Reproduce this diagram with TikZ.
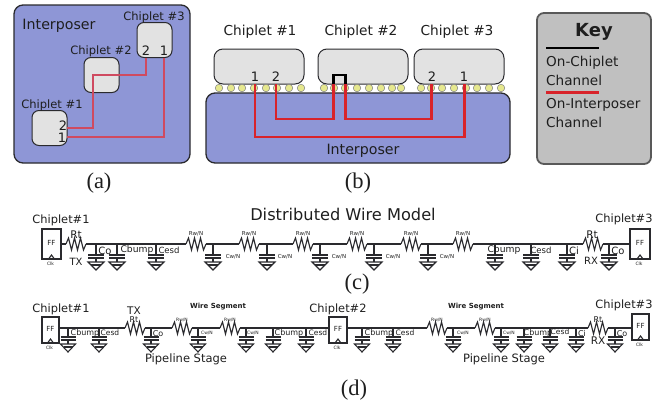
\documentclass[tikz,border=0pt]{standalone}
\usepackage{fontspec}
\setmainfont{DejaVu Sans}
\newfontfamily\capfont{Liberation Serif}
\definecolor{ipblue}{HTML}{8E96D6}
\definecolor{chipgray}{HTML}{E2E2E2}
\definecolor{edgedark}{HTML}{2A2A2E}
\definecolor{redwire}{HTML}{D8232A}
\definecolor{redsoft}{HTML}{CF4A60}
\definecolor{bumpy}{HTML}{E6E88E}
\definecolor{keygray}{HTML}{C0C0C0}
\definecolor{txt}{HTML}{1E1E1E}
\newcounter{labn}
\newcommand{\lab}[4]{\stepcounter{labn}\node[lbl,font=\fontsize{#3}{#3}\selectfont] (lab\thelabn) at ({#1},{#2}) {#4};}
\newcommand{\labb}[4]{\stepcounter{labn}\node[lbl,font=\fontsize{#3}{#3}\selectfont\bfseries] (lab\thelabn) at ({#1},{#2}) {#4};}
\newcommand{\capt}[3]{\stepcounter{labn}\node[lbl,font=\fontsize{22.5}{22.5}\selectfont\capfont] (lab\thelabn) at ({#1},{#2}) {#3};}
% resistor centred at (x,y)
\newcommand{\rzig}[2]{\draw[wire] (#1-10,#2) -- ++(2.5,-6) -- ++(3,12) -- ++(3,-12) -- ++(3,12) -- ++(3,-12) -- ++(3,12) -- ++(2.5,-6);}
% capacitor to ground: x, wire y, plate y, half width
\newcommand{\cgnd}[4]{\draw[wire] (#1,#2) -- (#1,#3);
  \draw[wire,line width=1.5pt] (#1-#4,#3) -- (#1+#4,#3);
  \draw[wire,line width=1.5pt] (#1-#4,#3+3) -- (#1+#4,#3+3);
  \draw[wire] (#1,#3+3) -- (#1,#3+7);
  \draw[wire] (#1-#4,#3+7) -- (#1+#4,#3+7) -- (#1,#3+15) -- cycle;
  \draw[wire] (#1-#4+3,#3+10) -- (#1+#4-3,#3+10);}
% flip-flop: name, left, top, right, bottom
\newcommand{\ff}[5]{\node[ffbox,minimum width=#4-#2,minimum height=#5-#3] (#1) at ({(#2+#4)/2},{(#3+#5)/2}) {};
  \draw[wire] ({(#2+#4)/2-3},#5) -- ({(#2+#4)/2},#5-4) -- ({(#2+#4)/2+3},#5);
  \lab{(#2+#4)/2}{(#3+#5)/2-1}{7}{FF}
  \lab{(#2+#4)/2-1}{#5+5}{4.5}{Clk}}
\tikzset{
  lbl/.style={inner sep=0pt,text=txt},
  wire/.style={draw=edgedark,line width=1.1pt,line join=miter},
  ffbox/.style={draw=edgedark,line width=1.4pt,fill=white,inner sep=0pt},
  ipbox/.style={draw=edgedark,line width=1.3pt,fill=ipblue,rounded corners=9pt,inner sep=0pt},
  chip/.style={draw=edgedark,line width=1pt,fill=chipgray,rounded corners=7pt,inner sep=0pt},
  bump/.style={draw=edgedark!60,line width=0.5pt,fill=bumpy,circle,minimum size=7.5pt,inner sep=0pt},
  redpath/.style={draw=redwire,line width=2.3pt},
  softred/.style={draw=redsoft,line width=1.5pt},
}
\begin{document}
\begin{tikzpicture}[x=1pt,y=-1pt]
\useasboundingbox (0,0) rectangle (656,405);
% ---------- (a)
\node[ipbox,minimum width=176pt,minimum height=158pt] (ipa) at (102,84) {};
\node[chip,minimum width=35pt,minimum height=35pt] (a3) at (154.5,40) {};
\node[chip,minimum width=35pt,minimum height=35pt] (a2) at (101.5,75) {};
\node[chip,minimum width=35pt,minimum height=35pt] (a1) at (49.5,128) {};
\coordinate (a1p2) at (67,128);
\coordinate (a1p1) at (67,137);
\coordinate (a3p2) at (146,57.5);
\coordinate (a3p1) at (164,57.5);
\coordinate (abend) at (93,75);
\draw[softred] (a1p2) -| (abend) -| (a3p2);
\draw[softred] (a1p1) -| (a3p1);
\lab{59}{26}{14.2}{Interposer}
\lab{154}{17}{11.5}{Chiplet \#3}
\lab{101}{51}{11.5}{Chiplet \#2}
\lab{52}{105}{11.5}{Chiplet \#1}
\lab{146}{51}{13}{2}
\lab{164}{51}{13}{1}
\lab{63}{126}{13}{2}
\lab{62}{138}{13}{1}
\capt{99}{183}{(a)}
% ---------- (b)
\node[ipbox,minimum width=304pt,minimum height=70pt] (ipb) at (358,128) {};
\node[chip,minimum width=90pt,minimum height=35pt,rounded corners=9pt] (b1) at (259,66.5) {};
\node[chip,minimum width=90pt,minimum height=35pt,rounded corners=9pt] (b2) at (363,66.5) {};
\node[chip,minimum width=90pt,minimum height=35pt,rounded corners=9pt] (b3) at (459,66.5) {};
\foreach \x in {219,231,242,254,266,277,289,301,324,334,345,357,369,381,392,401,421,431,442,454,466,477,489,501}
  {\node[bump] (bp\x) at (\x,88) {};}
\coordinate (p11) at (255,84);
\coordinate (p12) at (276,84);
\coordinate (p2l) at (333.5,84);
\coordinate (p2r) at (345.5,84);
\coordinate (p32) at (431.5,84);
\coordinate (p31) at (464.5,84);
\coordinate (lowb) at (0,137);
\coordinate (midb) at (0,119);
\draw[redpath] (p11) |- (lowb -| p31) -- (p31);
\draw[redpath] (p12) |- (midb -| p2l) -- (p2l);
\draw[redpath] (p2r) |- (midb -| p32) -- (p32);
\draw[draw=black,line width=2.2pt] (p2l) -- ++(0,-9) -| (p2r);
\lab{260}{32}{13.7}{Chiplet \#1}
\lab{361}{32}{13.7}{Chiplet \#2}
\lab{457}{32}{13.7}{Chiplet \#3}
\lab{255}{77}{13}{1}
\lab{276}{77}{13}{2}
\lab{432}{77}{13}{2}
\lab{464}{77}{13}{1}
\lab{363}{151}{14.2}{Interposer}
\capt{358}{183}{(b)}
% ---------- Key
\node[draw=black!65,line width=1.8pt,fill=keygray,rounded corners=7pt,minimum width=114pt,minimum height=151pt,inner sep=0pt] (keybox) at (594,88.5) {};
\labb{594}{32}{18}{Key}
\coordinate (kb1) at (546,48);
\coordinate (kb2) at (599,48);
\coordinate (kr1) at (546,92.5);
\coordinate (kr2) at (599,92.5);
\draw[black,line width=2.2pt] (kb1) -- (kb2);
\draw[redwire,line width=2.2pt] (kr1) -- (kr2);
\begin{scope}[every node/.append style={anchor=west}]
\lab{546}{63}{13.6}{On-Chiplet}
\lab{546}{80}{13.6}{Channel}
\lab{546}{105}{13.6}{On-Interposer}
\lab{546}{122}{13.6}{Channel}
\end{scope}
% ---------- (c)
\lab{343}{214}{16.2}{Distributed Wire Model}
\ff{cf1}{42}{229}{61}{259}
\ff{cf3}{630}{229}{650}{259}
\foreach \x in {76,593} {\rzig{\x}{244}}
\foreach \x in {196,249,303,357,411,463} {\rzig{\x}{244}}
\draw[wire] (cf1.east) -- (66,244);
\draw[wire] (86,244) -- (186,244);
\foreach \a/\b in {206/239,259/293,313/347,367/401,421/453,473/583,603/630} {\draw[wire] (\a,244) -- (\b,244);}
\foreach \x in {96,117,156,213,267,320,374,428,495,531,567,609} {\cgnd{\x}{244}{255}{8}}
\lab{76}{235}{10.5}{Rt}
\lab{76}{262}{10}{TX}
\lab{592}{235}{10.5}{Rt}
\lab{591}{261}{10}{RX}
\lab{105}{251}{10}{Co}
\lab{137}{250}{9.2}{Cbump}
\lab{169}{250}{8.5}{Cesd}
\lab{504}{250}{9.2}{Cbump}
\lab{541}{250}{8.5}{Cesd}
\lab{574}{251}{10}{Ci}
\lab{618}{251}{10}{Co}
\foreach \x in {196,249,303,357,411,463} {\lab{\x}{234}{5.5}{Rw/N}}
\foreach \x in {233,285,339,393,447} {\lab{\x}{257}{5.5}{Cw/N}}
\lab{61}{220}{11.4}{Chiplet\#1}
\lab{624}{219}{11.4}{Chiplet\#3}
\capt{357}{284}{(c)}
% ---------- (d)
\ff{df1}{42}{317}{59}{343}
\ff{df2}{329}{317}{347}{343}
\ff{df3}{632}{314}{649}{340}
\foreach \x in {135,182,230,437,485,598} {\rzig{\x}{328}}
\coordinate (dwy) at (125,328);
\draw[wire] (df1.east |- dwy) -- (dwy);
\foreach \a/\b in {145/172,192/220,240/329,347/427,447/475,495/588,608/632} {\draw[wire] (\a,328) -- (\b,328);}
\foreach \x in {68,99,151,198,246,273,306,362,393,453,501,524,550,576,615} {\cgnd{\x}{328}{337}{7.5}}
\lab{61}{309}{11.4}{Chiplet\#1}
\lab{338}{309}{11.4}{Chiplet\#2}
\lab{624}{305}{11.4}{Chiplet\#3}
\lab{134}{311}{10.5}{TX}
\lab{134}{320}{8}{Rt}
\lab{598}{320}{8}{Rt}
\lab{598}{341}{10.5}{RX}
\labb{218}{307}{7}{Wire Segment}
\labb{476}{307}{7}{Wire Segment}
\lab{186}{359}{11.5}{Pipeline Stage}
\lab{504}{359}{11.5}{Pipeline Stage}
\lab{85}{333}{8}{Cbump}
\lab{110}{333}{7.5}{Cesd}
\lab{289}{333}{8}{Cbump}
\lab{318}{333}{7.5}{Cesd}
\lab{379}{333}{8}{Cbump}
\lab{405}{333}{7.5}{Cesd}
\lab{538}{333}{8}{Cbump}
\lab{560}{332}{7.5}{Cesd}
\lab{582}{334}{8}{Ci}
\lab{158}{334}{8}{Co}
\lab{622}{334}{8}{Co}
\foreach \x in {182,230,437,485} {\lab{\x}{320}{4.5}{Rw/N}}
\foreach \x in {207,253,463,509} {\lab{\x}{333}{4.5}{Cw/N}}
\capt{354}{390}{(d)}
\end{tikzpicture}
\end{document}
